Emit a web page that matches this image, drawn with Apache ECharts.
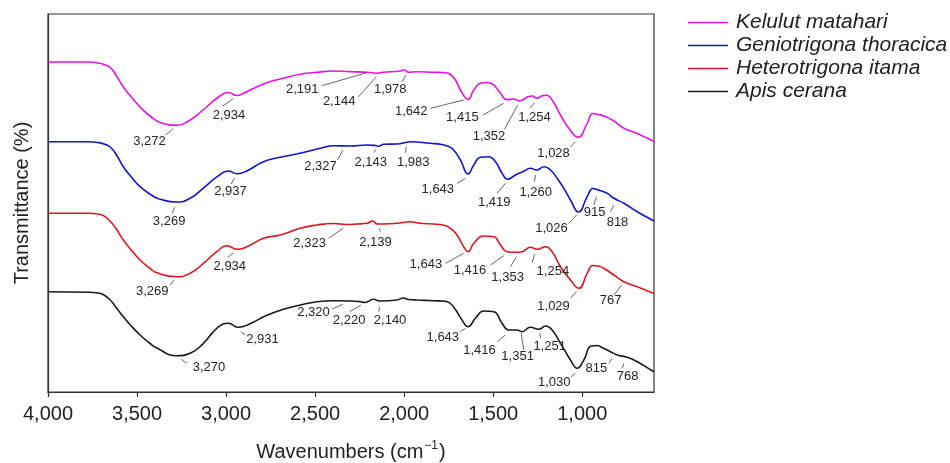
<!DOCTYPE html>
<html><head><meta charset="utf-8">
<script src="https://cdn.jsdelivr.net/npm/echarts@6/dist/echarts.min.js"></script>
<style>html,body{margin:0;padding:0;background:#fff}#c{width:950px;height:463px}</style>
</head><body><div id="c"></div>
<script>
const seriesNames = ['Kelulut matahari', 'Geniotrigona thoracica', 'Heterotrigona itama', 'Apis cerana'];
const xTicks = [4000, 3500, 3000, 2500, 2000, 1500, 1000];

// [wavenumber, transmittance (arbitrary offset units)]
const kelulut = [[4000,330],[3770,330],[3720,329],[3690,327.8],[3651,324.5],[3615,316],[3577,305],[3530,294.5],[3483,285],[3420,275],[3370,269.5],[3275,266.7],[3202,272],[3129,282],[3050,294],[2987,299.5],[2939,296.5],[2900,298.8],[2865,302],[2771,309.3],[2679,313.7],[2584,317.7],[2490,319.7],[2398,321],[2302,320.3],[2209,319.7],[2152,318.8],[2117,319.7],[2021,321],[1999,322.3],[1976,319.7],[1928,320.3],[1836,319.7],[1770,319.3],[1740,317.5],[1712,312],[1684,302],[1641,292.5],[1609,302],[1572,308.7],[1538,309.5],[1506,308],[1487,305.3],[1459,298.7],[1422,292.3],[1385,293],[1357,291.3],[1343,291.5],[1309,295],[1281,296],[1254,293.7],[1229,296],[1201,296.8],[1169,292],[1122,277],[1075,263.7],[1023,254.7],[972,268.7],[940,278.5],[910,277.5],[879,276],[822,271],[766,263.7],[691,258.5],[607,251.5],[597,250.8]];
const geniotrigona = [[4000,250.3],[3770,250.3],[3720,249.5],[3690,248.3],[3651,245],[3615,237],[3577,225.3],[3530,214.5],[3483,205.3],[3420,197],[3370,192.7],[3275,190],[3202,193.7],[3129,203.7],[3050,215.3],[2987,221],[2939,218.3],[2881,221.3],[2790,230.3],[2696,234.7],[2584,238.7],[2471,243.7],[2396,246.3],[2302,246],[2209,247],[2160,246.5],[2143,245.8],[2115,247.7],[2040,248],[1990,249.5],[1965,250.3],[1853,248.7],[1790,247.5],[1750,245.5],[1722,242],[1684,232],[1641,218],[1609,227],[1572,234.7],[1525,235.3],[1487,230.3],[1450,218.7],[1418,212.7],[1403,213.7],[1375,217],[1328,220.7],[1291,223.7],[1257,222],[1214,225.3],[1178,222],[1141,213.7],[1103,203.7],[1066,192],[1021,180],[972,195.3],[940,203.5],[910,202],[860,198.7],[822,193.7],[766,188.7],[691,180.3],[607,172],[597,171.3]];
const heterotrigona = [[4000,178.7],[3770,178.7],[3720,178],[3690,176.5],[3660,172.5],[3620,164],[3577,152],[3530,141.5],[3483,132],[3430,124],[3389,119.2],[3277,115.3],[3202,118.7],[3127,128.7],[3052,140.3],[2996,146.3],[2939,142.7],[2883,145.3],[2790,153.7],[2696,157],[2584,163.7],[2490,167],[2396,168.5],[2321,167.5],[2265,168],[2209,168.7],[2175,171],[2152,168],[2115,168],[2040,168.7],[1965,170.3],[1909,168.7],[1834,168],[1770,166.5],[1735,163],[1703,157],[1666,145.3],[1641,140.3],[1609,148.7],[1553,156],[1497,155.3],[1459,147],[1422,140.3],[1375,139.7],[1338,140.3],[1291,144.7],[1253,142.7],[1206,145.3],[1169,140.3],[1122,125.3],[1066,112],[1019,103.7],[972,118.7],[940,126.5],[910,126],[879,123.7],[822,117],[766,110.3],[691,105.3],[607,99.3],[597,98.6]];
const apis = [[4000,100.3],[3770,99.8],[3720,99],[3690,97.5],[3651,92],[3615,84],[3577,75.3],[3530,65.5],[3483,57],[3430,49],[3389,44],[3277,36.3],[3202,38.7],[3127,48.7],[3052,63.7],[2987,68.7],[2930,64.7],[2865,68.3],[2780,76],[2677,82.7],[2584,87],[2490,90.3],[2396,91.3],[2302,91],[2246,90.3],[2220,89.5],[2171,92.7],[2140,91],[2040,92],[2005,94],[1975,92.5],[1928,92],[1834,91.3],[1770,90.8],[1740,88.5],[1710,82],[1675,72],[1641,65.3],[1600,73.7],[1553,81],[1497,80.3],[1450,68.7],[1413,62],[1366,62],[1338,60.3],[1291,64.7],[1244,62.7],[1206,66],[1169,62],[1122,48.7],[1066,32],[1028,23.7],[991,32],[950,46],[915,46.5],[897,45.3],[841,40.3],[803,37],[747,34.7],[691,30.3],[607,21.3],[597,20.5]];

// peak labels: [text, label wavenumber, label value, leader start w, v, leader end w, v]
const kelulutPeaks = [
  ['3,272',3430,251,3338,257,3296,263.7],
  ['2,934',2984,276.3,3018,286,2958,293.7],
  ['2,191',2572,303,2462,306.3,2209,319.3],
  ['2,144',2365,290.3,2256,295.3,2156,315.3],
  ['1,978',2078,303,2012,310.3,1989,317],
  ['1,642',1960,280.3,1853,283.7,1666,292],
  ['1,415',1673,274.7,1557,277,1441,288.7],
  ['1,352',1524,255.3,1437,262.7,1362,287],
  ['1,254',1268,274.7,1295,283.7,1268,289.3],
  ['1,028',1161,238.7,1066,245.3,1038,250.3]
];
const geniotrigonaPeaks = [
  ['3,269',3320,170.3,3301,178.7,3290,184.7],
  ['2,937',2975,201,2971,208,2954,213.7],
  ['2,327',2470,225.3,2374,232,2344,242],
  ['2,143',2188,229.7,2171,239.3,2160,242.7],
  ['1,983',1949,229.7,1993,239.3,1988,245.3],
  ['1,643',1811,203,1703,208.7,1656,213.7],
  ['1,419',1494,189.7,1478,198.7,1431,208.7],
  ['1,260',1261,199.7,1268,210.3,1263,217],
  ['1,026',1173,163.7,1075,168.7,1032,177],
  ['915',931,179.3,935,187,920,195.3],
  ['818',802,169.7,841,180.3,822,187]
];
const heterotrigonaPeaks = [
  ['3,269',3415,100.3,3314,107,3292,112],
  ['2,934',2979,126,2990,134.7,2958,139.3],
  ['2,323',2531,148.7,2424,153.7,2343,163.7],
  ['2,139',2161,149.3,2134,160.3,2139,163.7],
  ['1,643',1878,127.7,1768,128.7,1666,138.7],
  ['1,416',1630,122,1515,127,1441,136.3],
  ['1,353',1419,114.7,1403,125.3,1369,135.3],
  ['1,254',1165,121,1281,129.3,1268,137.7],
  ['1,029',1161,86,1066,93.7,1032,100.3],
  ['767',841,91.3,822,97,779,107]
];
const apisPeaks = [
  ['3,270',3096,24.7,3252,32.7,3220,28.7],
  ['2,931',2796,53,2917,60.3,2893,57],
  ['2,320',2509,79.7,2405,83,2344,87.7],
  ['2,220',2309,72,2306,80.3,2242,87],
  ['2,140',2079,72,2143,80.3,2138,85.3],
  ['1,643',1783,54.7,1684,60.3,1656,63.7],
  ['1,416',1577,42,1478,50.3,1431,57],
  ['1,351',1363,35.3,1328,42,1343,58.7],
  ['1,251',1183,46,1234,53.7,1238,58.7],
  ['1,030',1157,9.3,1062,15.3,1038,18.7],
  ['815',921,23.7,851,28.7,832,33.7],
  ['768',745,15.3,775,23.7,766,28.7]
];

const colors = ['#e812e4', '#1414c8', '#e0161e', '#1a1a1a'];
const curves = [kelulut, geniotrigona, heterotrigona, apis];
const peaks = [kelulutPeaks, geniotrigonaPeaks, heterotrigonaPeaks, apisPeaks];
const FONT = 'Liberation Sans, Arial, Helvetica, sans-serif';

const lineSeries = curves.map((d, i) => ({
  name: seriesNames[i], type: 'line', data: d, smooth: 0.5, symbol: 'none',
  lineStyle: {color: colors[i], width: 1.6}, itemStyle: {color: colors[i]},
  z: 3, animation: false
}));
const annoSeries = peaks.map((p) => {
  const labels = p.map(r => r[0]);
  return {
    type: 'custom', silent: true, animation: false, z: 4,
    data: p.map(r => r.slice(1)),
    encode: {x: [0, 2, 4], y: [1, 3, 5]},
    renderItem: function (params, api) {
      const t = api.coord([api.value(0), api.value(1)]);
      const a = api.coord([api.value(2), api.value(3)]);
      const b = api.coord([api.value(4), api.value(5)]);
      return {type: 'group', children: [
        {type: 'line', shape: {x1: a[0], y1: a[1], x2: b[0], y2: b[1]}, style: {stroke: '#555', lineWidth: 0.9}},
        {type: 'text', x: t[0], y: t[1], style: {text: labels[params.dataIndex], fill: '#262626', font: '13px ' + FONT, align: 'center', verticalAlign: 'middle'}}
      ]};
    }
  };
});

const chart = echarts.init(document.getElementById('c'), null, {renderer: 'canvas'});
chart.setOption({
  animation: false,
  backgroundColor: '#fff',
  grid: {left: 48, right: 296, top: 14, bottom: 71, show: true, borderColor: '#333', borderWidth: 1.2, backgroundColor: 'transparent', containLabel: false, outerBoundsMode: 'none'},
  legend: {
    data: seriesNames, orient: 'vertical', left: 683, top: 7, icon: 'rect', itemWidth: 40, itemHeight: 1.6, itemGap: 2,
    textStyle: {fontSize: 21, fontStyle: 'italic', color: '#222', fontFamily: FONT, padding: [0, 0, 0, 3]}
  },
  xAxis: {
    type: 'value', inverse: true, min: 597, max: 4000,
    name: '{a|Wavenumbers (cm}{s|−1}{a|)}', nameLocation: 'middle', nameGap: 48,
    nameTextStyle: {rich: {a: {fontSize: 20, color: '#222', fontFamily: FONT}, s: {fontSize: 12, color: '#222', fontFamily: FONT, verticalAlign: 'top', padding: [0, 1, 12, 1]}}},
    axisLine: {show: true, lineStyle: {color: '#333', width: 1.2}},
    axisTick: {show: true, length: 5, inside: false, customValues: xTicks, lineStyle: {color: '#333', width: 1.2}},
    axisLabel: {customValues: xTicks, fontSize: 20, color: '#222', fontFamily: FONT, margin: 12,
      formatter: v => Number(v).toLocaleString('en-US')},
    splitLine: {show: false}
  },
  yAxis: {
    type: 'value', min: 0, max: 378,
    name: 'Transmittance (%)', nameLocation: 'middle', nameGap: 16,
    nameTextStyle: {fontSize: 20, color: '#222', fontFamily: FONT},
    axisLine: {show: true, lineStyle: {color: '#333', width: 1.2}},
    axisTick: {show: false}, axisLabel: {show: false}, splitLine: {show: false}
  },
  series: lineSeries.concat(annoSeries)
});
</script></body></html>
